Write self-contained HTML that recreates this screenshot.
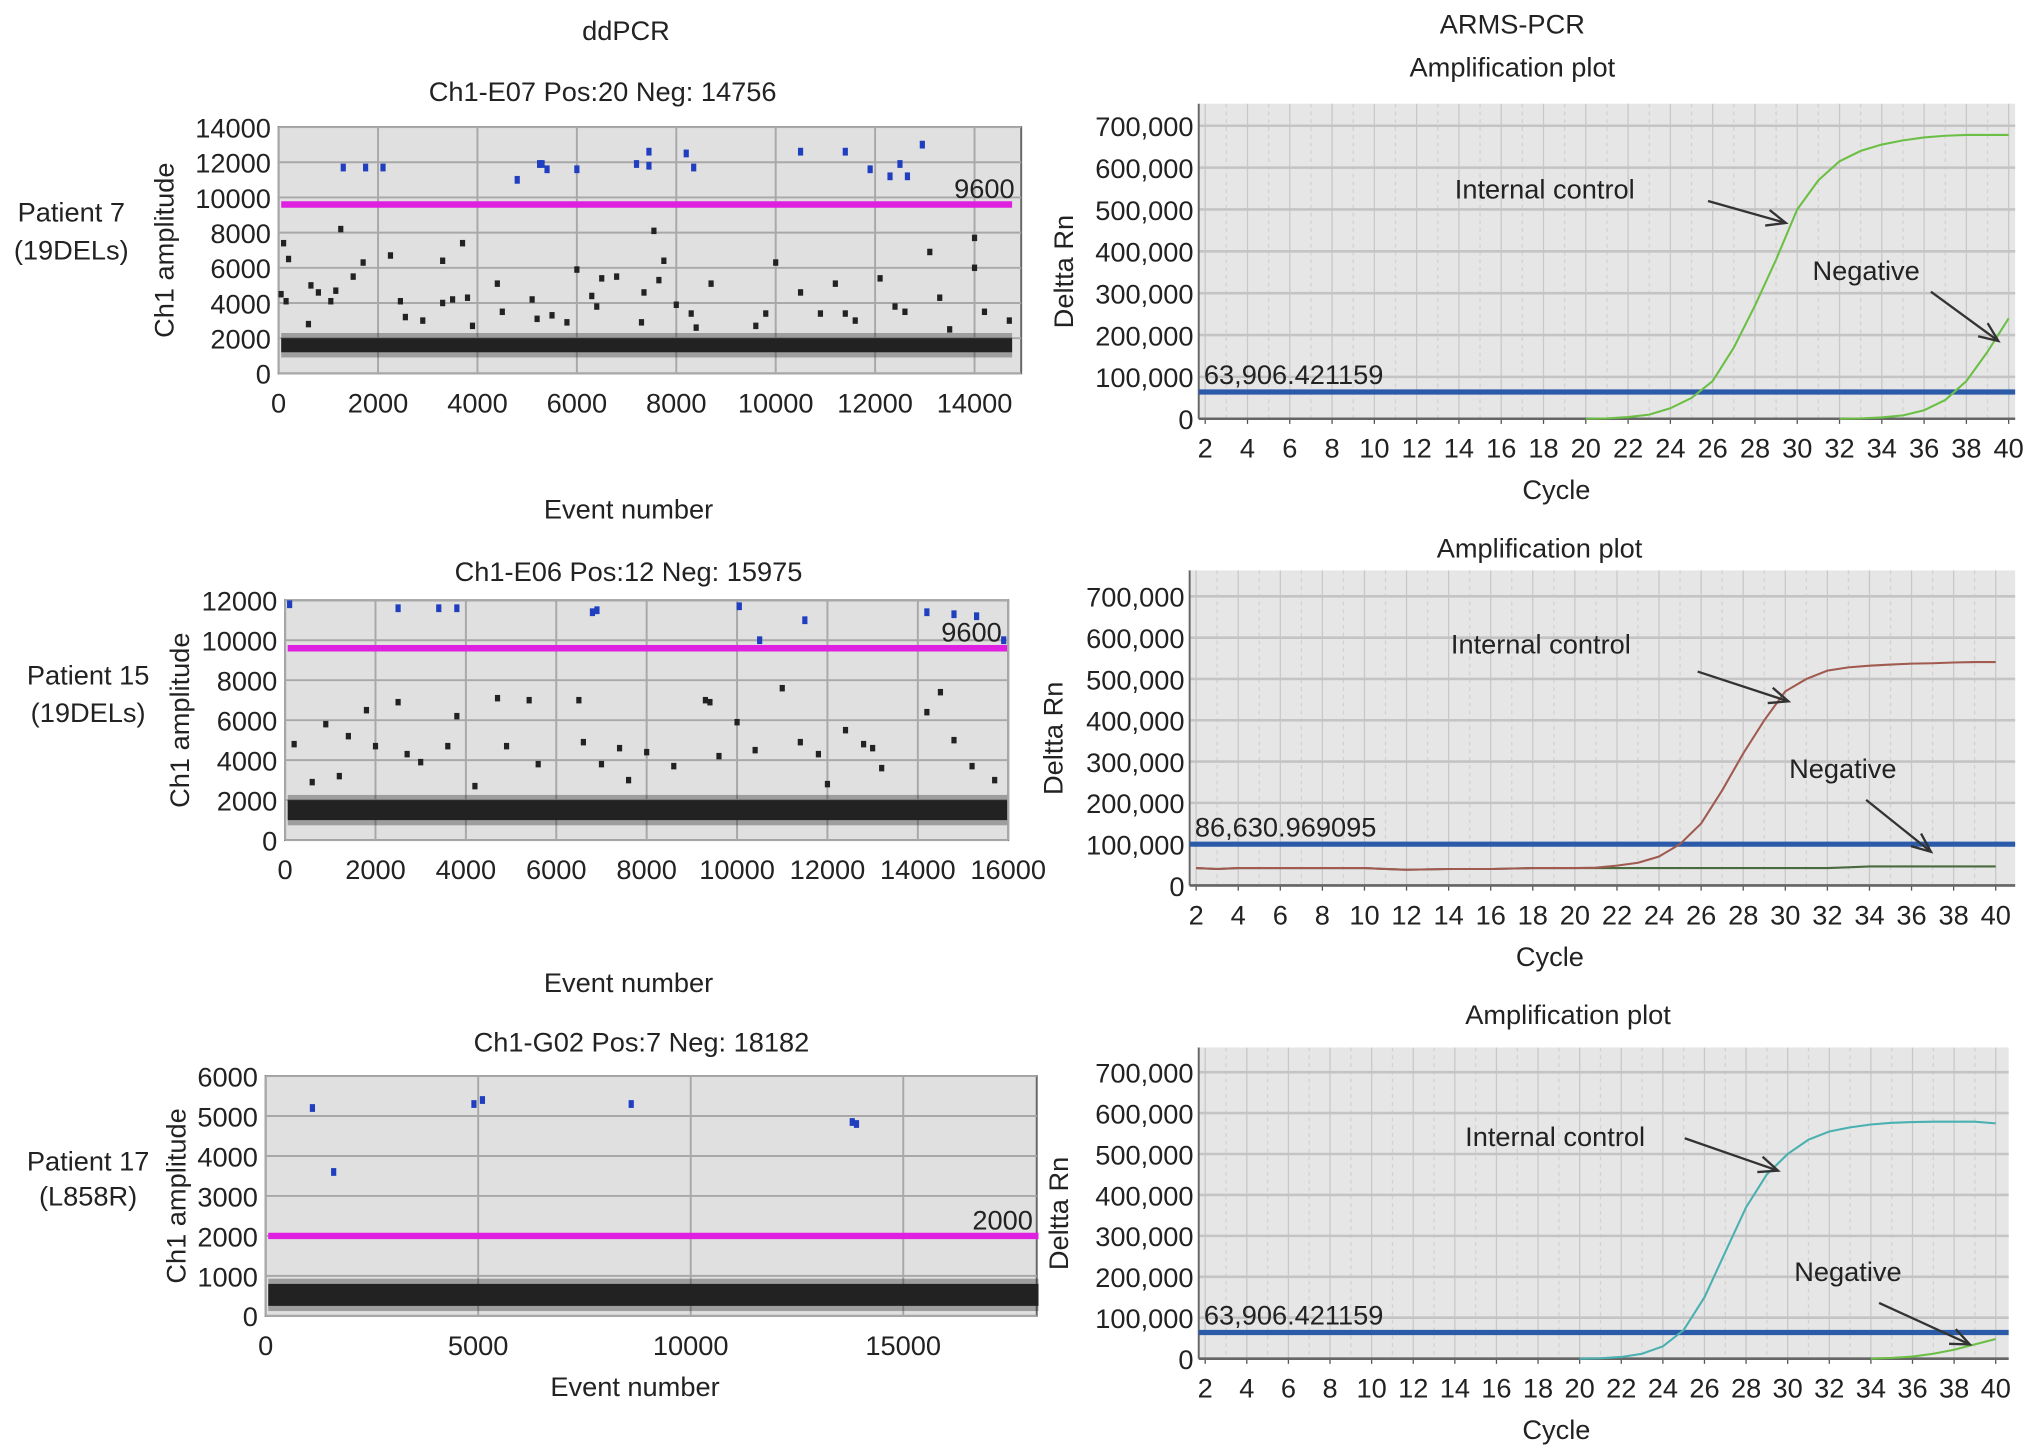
<!DOCTYPE html>
<html><head><meta charset="utf-8">
<style>
html,body{margin:0;padding:0;background:#fff;}
svg{display:block;font-family:"Liberation Sans",sans-serif;}
text{fill:#222;}
</style></head>
<body>
<svg id="fig" width="2032" height="1452" viewBox="0 0 1568 1120" preserveAspectRatio="none" xmlns="http://www.w3.org/2000/svg"></svg>
<script>
// ---------- ddPCR data ----------
const p1Pos = [[1300,11700],[1750,11700],[2100,11700],[4800,11000],[5250,11900],[5300,11900],[5400,11600],[6000,11600],[7200,11900],[7450,12600],[7450,11800],[8200,12500],[8350,11700],[10500,12600],[11400,12600],[11900,11600],[12300,11200],[12500,11900],[12650,11200],[12950,13000]];
const p1Neg = [[100,7400],[200,6500],[50,4500],[150,4100],[650,5000],[800,4600],[1050,4100],[1150,4700],[1250,8200],[1500,5500],[1700,6300],[2250,6700],[2450,4100],[2550,3200],[3300,6400],[3300,4000],[3500,4200],[3700,7400],[3800,4300],[3900,2700],[4400,5100],[4500,3500],[5100,4200],[5200,3100],[5500,3300],[6000,5900],[6300,4400],[6400,3800],[6500,5400],[6800,5500],[7300,2900],[7350,4600],[7550,8100],[7650,5300],[7750,6400],[8000,3900],[8300,3400],[8700,5100],[9800,3400],[10000,6300],[10500,4600],[10900,3400],[11200,5100],[11400,3400],[11600,3000],[12100,5400],[12400,3800],[12600,3500],[13100,6900],[13300,4300],[14000,7700],[14000,6000],[14200,3500],[14700,3000],[9600,2700],[13500,2500],[600,2800],[2900,3000],[5800,2900],[8400,2600]];
const p1Band = [1200,2000];
const p2Pos = [[100,11800],[2500,11600],[3400,11600],[3800,11600],[6800,11400],[6900,11500],[10050,11700],[10500,10000],[11500,11000],[14200,11400],[14800,11300],[15300,11200],[15900,10000]];
const p2Neg = [[200,4800],[900,5800],[1400,5200],[1800,6500],[2000,4700],[2500,6900],[2700,4300],[3000,3900],[3600,4700],[3800,6200],[4700,7100],[4900,4700],[5400,7000],[5600,3800],[6500,7000],[6600,4900],[7000,3800],[7400,4600],[8000,4400],[8600,3700],[9300,7000],[9400,6900],[9600,4200],[10000,5900],[10400,4500],[11000,7600],[11400,4900],[11800,4300],[12400,5500],[12800,4800],[13000,4600],[13200,3600],[14200,6400],[14500,7400],[14800,5000],[15200,3700],[15700,3000],[600,2900],[1200,3200],[4200,2700],[7600,3000],[12000,2800]];
const p2Band = [1000,2000];
const p3Pos = [[1100,5200],[1600,3600],[4900,5300],[5100,5400],[8600,5300],[13800,4850],[13900,4800]];
const p3Band = [250,800];
// ---------- ARMS data ----------
const cyclesLate = [20,21,22,23,24,25,26,27,28,29,30,31,32,33,34,35,36,37,38,39,40];
const aIC = [0,1000,4000,10000,25000,50000,90000,170000,270000,380000,500000,570000,615000,640000,655000,665000,672000,676000,678000,678000,678000];
const aNegCyc = [32,33,34,35,36,37,38,39,40];
const aNeg = [0,1000,3000,8000,20000,45000,90000,160000,240000];
const bCycles = [2,3,4,6,8,10,11,12,14,16,18,20,21,22,23,24,25,26,27,28,29,30,31,32,33,34,35,36,37,38,39,40];
const bIC = [42000,40000,42000,42000,42000,42000,40000,38000,40000,40000,42000,42000,43000,48000,55000,70000,100000,150000,230000,320000,400000,470000,500000,520000,528000,532000,535000,537000,538000,540000,541000,541000];
const bNeg = [42000,40000,42000,42000,42000,42000,40000,38000,40000,40000,42000,42000,42000,42000,42000,42000,42000,42000,42000,42000,42000,42000,42000,42000,44000,46000,46000,46000,46000,46000,46000,46000];
const cIC = [0,1000,4000,12000,30000,70000,150000,260000,370000,450000,500000,535000,555000,565000,572000,576000,578000,579000,579000,579000,575000];
const cNegCyc = [34,35,36,37,38,39,40];
const cNeg = [0,2000,5000,12000,22000,35000,48000];
const yTicksArms = [0,100000,200000,300000,400000,500000,600000,700000];
const xTicksArms = [2,4,6,8,10,12,14,16,18,20,22,24,26,28,30,32,34,36,38,40];

const NS="http://www.w3.org/2000/svg";
const svg=document.getElementById('fig');
function el(tag,attrs,parent){const e=document.createElementNS(NS,tag);for(const k in attrs)e.setAttribute(k,attrs[k]);(parent||svg).appendChild(e);return e;}
function txt(s,x,y,opts,parent){const t=el('text',Object.assign({x:x,y:y,'font-size':21,'text-anchor':'middle'},opts||{}),parent);t.textContent=s;return t;}
function fmt(v){return v.toLocaleString('en-US');}

function ddpcr(cfg){
  const g=el('g',{});
  
  
  const sx=v=>cfg.x0+(v/cfg.xMaxTick)*(cfg.xTickPx-cfg.x0);
  const sy=v=>cfg.y0-(v/cfg.yMax)*(cfg.y0-cfg.y1);
  const bg=el('rect',{x:cfg.x0,y:cfg.y1,width:cfg.x2-cfg.x0,height:cfg.y0-cfg.y1,fill:'#e0e0e0',stroke:'#666','stroke-width':1.5},g);
  
  for(const v of cfg.yTicks){const y=sy(v);el('line',{x1:cfg.x0,x2:cfg.x2,y1:y,y2:y,stroke:'#a8a8a8','stroke-width':1.5},g);
    const t=txt(String(v),cfg.x0-6,y+8,{'text-anchor':'end'},g);}
  for(const v of cfg.xTicks){const x=sx(v);el('line',{x1:x,x2:x,y1:cfg.y1,y2:cfg.y0,stroke:'#a8a8a8','stroke-width':1.5},g);
    const t=txt(String(v),x,cfg.y0+30,{},g);}
  const band=el('rect',{x:cfg.x0+2,y:sy(cfg.band[1]),width:sx(cfg.xEnd)-cfg.x0-2,height:sy(cfg.band[0])-sy(cfg.band[1]),fill:'#222'},g);
  
  const band2=el('rect',{x:cfg.x0+2,y:sy(cfg.band[1])-4,width:sx(cfg.xEnd)-cfg.x0-2,height:sy(cfg.band[0])-sy(cfg.band[1])+8,fill:'#222',opacity:0.35},g);
  
  for(const p of cfg.neg){const r=el('rect',{x:sx(p[0])-2,y:sy(p[1])-2.5,width:4,height:5,fill:'#222'},g);
    }
  const th=el('line',{x1:cfg.x0+2,x2:sx(cfg.xEnd),y1:sy(cfg.thr),y2:sy(cfg.thr),stroke:'#e020e0','stroke-width':5},g);
  
  const tl=txt(String(cfg.thr),cfg.thrLabelX,sy(cfg.thr)-5,{'text-anchor':'end'},g);
  for(const p of cfg.pos){const r=el('rect',{x:sx(p[0])-2,y:sy(p[1])-3,width:4,height:6,fill:'#1f3fc0'},g);
    }
  const yl=txt('Ch1 amplitude',0,0,{transform:`translate(${cfg.ylX},${(cfg.y0+cfg.y1)/2}) rotate(-90)`},g);
  
}

function arms(cfg){
  const g=el('g',{});
  
  
  const sx=c=>cfg.cx2+(c-2)*(cfg.cx40-cfg.cx2)/38;
  const sy=v=>cfg.y0-(v/700000)*(cfg.y0-cfg.y700);
  const bg=el('rect',{x:cfg.x0,y:cfg.y1,width:cfg.x2-cfg.x0,height:cfg.y0-cfg.y1,fill:'#e6e6e6'},g);
  
  for(let c=2;c<=40;c++){const x=sx(c);el('line',{x1:x,x2:x,y1:cfg.y1,y2:cfg.y0,stroke:c%2?'#d2d2d2':'#c8c8c8','stroke-width':1,'stroke-dasharray':c%2?'3,3':'none'},g);}
  for(const v of yTicksArms){const y=sy(v);el('line',{x1:cfg.x0,x2:cfg.x2,y1:y,y2:y,stroke:'#c4c4c4','stroke-width':2},g);
    const t=txt(v===0?'0':fmt(v),cfg.x0-4,y+8,{'text-anchor':'end'},g);}
  for(const c of xTicksArms){const t=txt(String(c),sx(c),cfg.y0+30,{},g);
    el('line',{x1:sx(c),x2:sx(c),y1:cfg.y0,y2:cfg.y0+4,stroke:'#555'},g);}
  el('line',{x1:cfg.x0,x2:cfg.x0,y1:cfg.y1,y2:cfg.y0,stroke:'#666','stroke-width':1.5},g);
  el('line',{x1:cfg.x0,x2:cfg.x2,y1:cfg.y0,y2:cfg.y0,stroke:'#666','stroke-width':2},g);
  const th=el('line',{x1:cfg.x0,x2:cfg.x2,y1:sy(cfg.thr),y2:sy(cfg.thr),stroke:'#2a5aa8','stroke-width':4},g);
  
  const tl=txt(cfg.thrText,cfg.x0+4,sy(cfg.thr)-6,{'text-anchor':'start'},g);
  for(const s of cfg.series){
    const d=s.x.map((c,i)=>(i?'L':'M')+sx(c).toFixed(1)+','+sy(s.y[i]).toFixed(1)).join(' ');
    const p=el('path',{d:d,fill:'none',stroke:s.color,'stroke-width':1.6},g);
    
  }
  for(const a of cfg.ann){
    const t=txt(a.t,a.tx,a.ty,{},g);
    const ln=el('line',{x1:a.a[0],y1:a.a[1],x2:a.a[2],y2:a.a[3],stroke:'#333','stroke-width':1.8},g);
    
    const ang=Math.atan2(a.a[3]-a.a[1],a.a[2]-a.a[0]);const L=16;
    const hp=[[a.a[2]-L*Math.cos(ang-0.4),a.a[3]-L*Math.sin(ang-0.4)],[a.a[2],a.a[3]],[a.a[2]-L*Math.cos(ang+0.4),a.a[3]-L*Math.sin(ang+0.4)]];
    el('polyline',{points:hp.map(p=>p.join(',')).join(' '),fill:'none',stroke:'#333','stroke-width':1.8},g);
  }
  const yl=txt('Deltta Rn',0,0,{transform:`translate(${cfg.ylX},${(cfg.y0+cfg.y1)/2+8}) rotate(-90)`},g);
  
  const xl=txt('Cycle',cfg.cycX,cfg.y0+62,{},g);
}

[['ddPCR',483,31,'ddpcr-title'],['Ch1-E07 Pos:20 Neg: 14756',465,78,'chart-title-1'],['Event number',485,400,'x-axis-title'],
 ['Ch1-E06 Pos:12 Neg: 15975',485,448,'chart-title-2'],['Event number',485,765,'x-axis-title'],['Ch1-G02 Pos:7 Neg: 18182',495,811,'chart-title-3'],['Event number',490,1077,'x-axis-title'],
 ['Patient 7',55,171,'patient-label'],['(19DELs)',55,200,'patient-group-label'],['Patient 15',68,528,'patient-label'],['(19DELs)',68,557,'patient-group-label'],
 ['Patient 17',68,903,'patient-label'],['(L858R)',68,930,'patient-group-label'],
 ['ARMS-PCR',1167,26,'arms-title'],['Amplification plot',1167,59,'amplification-title'],['Amplification plot',1188,430,'amplification-title'],['Amplification plot',1210,790,'amplification-title']
].forEach(a=>{const t=txt(a[0],a[1],a[2]);});

ddpcr({name:'ddpcr-patient-7',x0:215,x2:788,y0:288,y1:98,xMaxTick:14000,xTickPx:752,xEnd:14756,yMax:14000,yTicks:[0,2000,4000,6000,8000,10000,12000,14000],xTicks:[0,2000,4000,6000,8000,10000,12000,14000],pos:p1Pos,neg:p1Neg,band:p1Band,thr:9600,thrLabelX:783,ylX:134});
ddpcr({name:'ddpcr-patient-15',x0:220,x2:778,y0:648,y1:463,xMaxTick:16000,xTickPx:778,xEnd:15975,yMax:12000,yTicks:[0,2000,4000,6000,8000,10000,12000],xTicks:[0,2000,4000,6000,8000,10000,12000,14000,16000],pos:p2Pos,neg:p2Neg,band:p2Band,thr:9600,thrLabelX:773,ylX:146});
ddpcr({name:'ddpcr-patient-17',x0:205,x2:800,y0:1015,y1:830,xMaxTick:15000,xTickPx:697,xEnd:18182,yMax:6000,yTicks:[0,1000,2000,3000,4000,5000,6000],xTicks:[0,5000,10000,15000],pos:p3Pos,neg:[],band:p3Band,thr:2000,thrLabelX:797,ylX:143});

arms({name:'arms-patient-7',x0:925,x2:1555,y0:323,y1:80,y700:97,cx2:930,cx40:1550,thr:63906,thrText:'63,906.421159',ylX:828,cycX:1201,
  series:[{name:'internal-control-curve',x:cyclesLate,y:aIC,color:'#6cbf45'},{name:'negative-curve',x:aNegCyc,y:aNeg,color:'#6cbf45'}],
  ann:[{t:'Internal control',tx:1192,ty:153,a:[1318,155,1378,172]},{t:'Negative',tx:1440,ty:216,a:[1490,225,1542,263]}]});
arms({name:'arms-patient-15',x0:918,x2:1555,y0:683,y1:440,y700:460,cx2:923,cx40:1540,thr:100000,thrText:'86,630.969095',ylX:820,cycX:1196,
  series:[{name:'negative-curve',x:bCycles,y:bNeg,color:'#4a6a40'},{name:'internal-control-curve',x:bCycles,y:bIC,color:'#a05a50'}],
  ann:[{t:'Internal control',tx:1189,ty:504,a:[1310,518,1380,541]},{t:'Negative',tx:1422,ty:600,a:[1440,617,1490,657]}]});
arms({name:'arms-patient-17',x0:925,x2:1550,y0:1048,y1:808,y700:827,cx2:930,cx40:1540,thr:63906,thrText:'63,906.421159',ylX:824,cycX:1201,
  series:[{name:'internal-control-curve',x:cyclesLate,y:cIC,color:'#4ab0b0'},{name:'negative-curve',x:cNegCyc,y:cNeg,color:'#6cbf45'}],
  ann:[{t:'Internal control',tx:1200,ty:884,a:[1300,878,1372,903]},{t:'Negative',tx:1426,ty:988,a:[1450,1005,1520,1037]}]});
</script>
</body></html>
